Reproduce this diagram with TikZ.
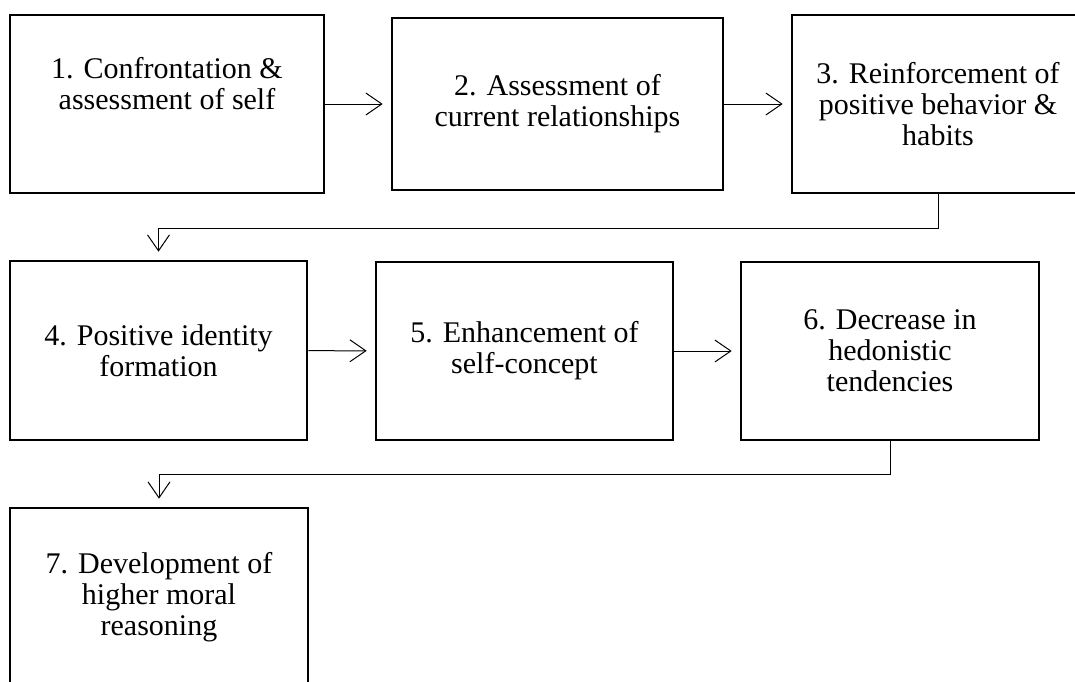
\documentclass[tikz,border=0pt]{standalone}
\usepackage{fontspec}
\setmainfont{Liberation Serif}
\usepackage{tikz}
\usetikzlibrary{arrows.meta}

\begin{document}
\begin{tikzpicture}[x=1pt, y=-1pt,
    stage/.style={draw, rectangle, line width=2.6pt, align=center, inner sep=0pt,
      font=\fontsize{30}{31}\selectfont},
    flow/.style={-{Straight Barb[length=16pt,width=22pt]}, line width=1pt, shorten >=8pt}]
  \useasboundingbox (0,0) rectangle (1075,681);
  % first row
  \node [stage, minimum width=314pt, minimum height=178pt] (s1) at (167,104)
    {1. Confrontation \&\\ assessment of self\\ \strut};
  \node [stage, minimum width=331pt, minimum height=172pt] (s2) at (557.5,104)
    {2. Assessment of\\ current relationships};
  \node [stage, minimum width=292pt, minimum height=178pt] (s3) at (938,104)
    {3. Reinforcement of\\ positive behavior \&\\ habits};
  % second row
  \node [stage, minimum width=297pt, minimum height=179pt] (s4) at (158.5,350.5)
    {4. Positive identity\\ formation};
  \node [stage, minimum width=297pt, minimum height=178pt] (s5) at (524.5,351)
    {5. Enhancement of\\ self-concept};
  \node [stage, minimum width=298pt, minimum height=178pt] (s6) at (890,351)
    {6. Decrease in\\ hedonistic\\ tendencies};
  % third row
  \node [stage, minimum width=298pt, minimum height=178pt] (s7) at (159,597)
    {7. Development of\\ higher moral\\ reasoning};
  \draw [flow] (s1) -- (s2);
  \draw [flow] (s2) -- (s3);
  \draw [flow] (s3.south) -- ++(0,34) -| (s4.north);
  \draw [flow] (s4) -- (s5);
  \draw [flow] (s5) -- (s6);
  \draw [flow] (s6.south) -- ++(0,33) -| (s7.north);
\end{tikzpicture}
\end{document}
